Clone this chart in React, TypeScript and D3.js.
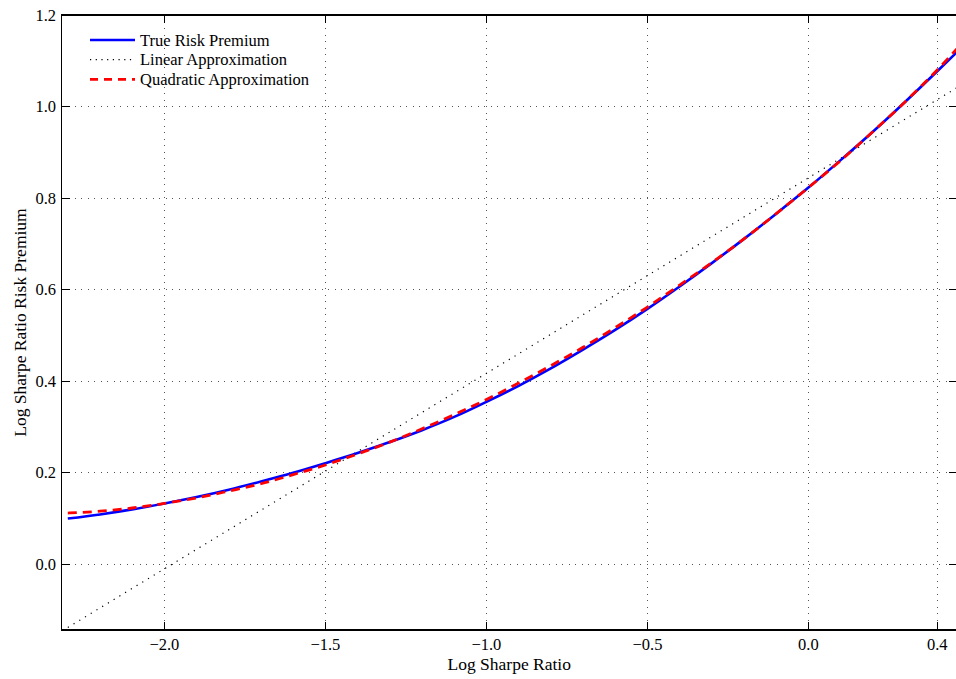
import React from "react";
import * as d3 from "d3";

const xTicks = [-2.0, -1.5, -1.0, -0.5, 0.0, 0.4];
const yTicks = [0.0, 0.2, 0.4, 0.6, 0.8, 1.0, 1.2];

const xs = [-2.3, -2.2, -2.1, -2.0, -1.9, -1.8, -1.7, -1.6, -1.5, -1.4, -1.3, -1.2, -1.1, -1.0, -0.9, -0.8, -0.7, -0.6, -0.5, -0.4, -0.3, -0.2, -0.1, 0.0, 0.1, 0.2, 0.3, 0.4, 0.47];
const trueRP = [0.100, 0.109, 0.120, 0.133, 0.147, 0.163, 0.181, 0.200, 0.221, 0.243, 0.267, 0.293, 0.322, 0.355, 0.390, 0.428, 0.469, 0.512, 0.558, 0.607, 0.658, 0.711, 0.766, 0.823, 0.883, 0.945, 1.010, 1.077, 1.125];
const quadRP = [0.112, 0.116, 0.123, 0.133, 0.145, 0.160, 0.176, 0.196, 0.217, 0.241, 0.267, 0.296, 0.327, 0.360, 0.396, 0.434, 0.474, 0.517, 0.562, 0.610, 0.659, 0.711, 0.766, 0.823, 0.882, 0.945, 1.010, 1.080, 1.133];
const linX = [-2.3, 0.47];
const linY = [-0.138, 1.045];

const legendItems = [
  { label: "True Risk Premium", color: "#0000ff", dash: "none", width: 2.6 },
  { label: "Linear Approximation", color: "#000000", dash: "1.2,4.5", width: 1.2 },
  { label: "Quadratic Approximation", color: "#ff0000", dash: "8,6", width: 2.6 },
];

const W = 956, H = 679;
const L = 61.5, R = 957, T = 15, B = 630;

export default function App() {
  const x = d3.scaleLinear().domain([-2.3196, 0.4614]).range([L, R]);
  const y = d3.scaleLinear().domain([-0.1435, 1.2]).range([B, T]);
  const line = d3.line<[number, number]>().x(d => x(d[0])).y(d => y(d[1])).curve(d3.curveMonotoneX);
  const truePts = xs.map((v, i) => [v, trueRP[i]] as [number, number]);
  const quadPts = xs.map((v, i) => [v, quadRP[i]] as [number, number]);
  const linPts = linX.map((v, i) => [v, linY[i]] as [number, number]);
  const fmt = (v: number) => (v < 0 ? "\u2212" : "") + Math.abs(v).toFixed(1);
  const font = "'Liberation Serif', 'Times New Roman', serif";
  const tick = 8;
  return (
    <svg width={W} height={H} style={{ position: "absolute", left: 0, top: 0, background: "#fff" }} fontFamily={font}>
      <defs>
        <clipPath id="plot"><rect x={L} y={T} width={R - L} height={B - T} /></clipPath>
      </defs>
      <rect x={0} y={0} width={W} height={H} fill="#fff" />
      {/* grid */}
      <g stroke="#555" strokeWidth={1} strokeDasharray="1,5.5" shapeRendering="crispEdges">
        {xTicks.map(t => <line key={"gx" + t} x1={x(t)} x2={x(t)} y1={T} y2={B} />)}
        {yTicks.filter(t => t < 1.2).map(t => <line key={"gy" + t} x1={L} x2={R} y1={y(t)} y2={y(t)} />)}
      </g>
      {/* curves */}
      <g clipPath="url(#plot)" fill="none">
        <path d={line(linPts) || ""} stroke="#000" strokeWidth={1.2} strokeDasharray="1.2,5.5" />
        <path d={line(truePts) || ""} stroke="#0000ff" strokeWidth={2.6} />
        <path d={line(quadPts) || ""} stroke="#ff0000" strokeWidth={2.8} strokeDasharray="9,6" />
      </g>
      {/* axes box */}
      <g stroke="#000" strokeWidth={1.2} fill="none" shapeRendering="crispEdges">
        <rect x={L} y={T} width={R - L} height={B - T} />
        {xTicks.map(t => (
          <g key={"tx" + t}>
            <line x1={x(t)} x2={x(t)} y1={B} y2={B - tick} />
            <line x1={x(t)} x2={x(t)} y1={T} y2={T + tick} />
          </g>
        ))}
        {yTicks.map(t => (
          <g key={"ty" + t}>
            <line x1={L} x2={L + tick} y1={y(t)} y2={y(t)} />
            <line x1={R} x2={R - tick} y1={y(t)} y2={y(t)} />
          </g>
        ))}
      </g>
      {/* tick labels */}
      <g fontSize={16.5} fill="#000">
        {xTicks.map(t => (
          <text key={"lx" + t} x={x(t)} y={650} textAnchor="middle">{fmt(t)}</text>
        ))}
        {yTicks.map(t => (
          <text key={"ly" + t} x={56} y={y(t) + 5.5} textAnchor="end">{fmt(t)}</text>
        ))}
      </g>
      {/* axis labels */}
      <text x={(L + R) / 2} y={669.5} textAnchor="middle" fontSize={17.5}>Log Sharpe Ratio</text>
      <text transform={`translate(25.5,${(T + B) / 2}) rotate(-90)`} textAnchor="middle" fontSize={17.5}>Log Sharpe Ratio Risk Premium</text>
      {/* legend */}
      <g>
        {legendItems.map((it, i) => {
          const yy = 40 + i * 19.7;
          return (
            <g key={it.label}>
              <line x1={90} x2={135} y1={yy} y2={yy} stroke={it.color} strokeWidth={it.width} strokeDasharray={it.dash} />
              <text x={140} y={yy + 5.5} fontSize={16.5}>{it.label}</text>
            </g>
          );
        })}
      </g>
    </svg>
  );
}
